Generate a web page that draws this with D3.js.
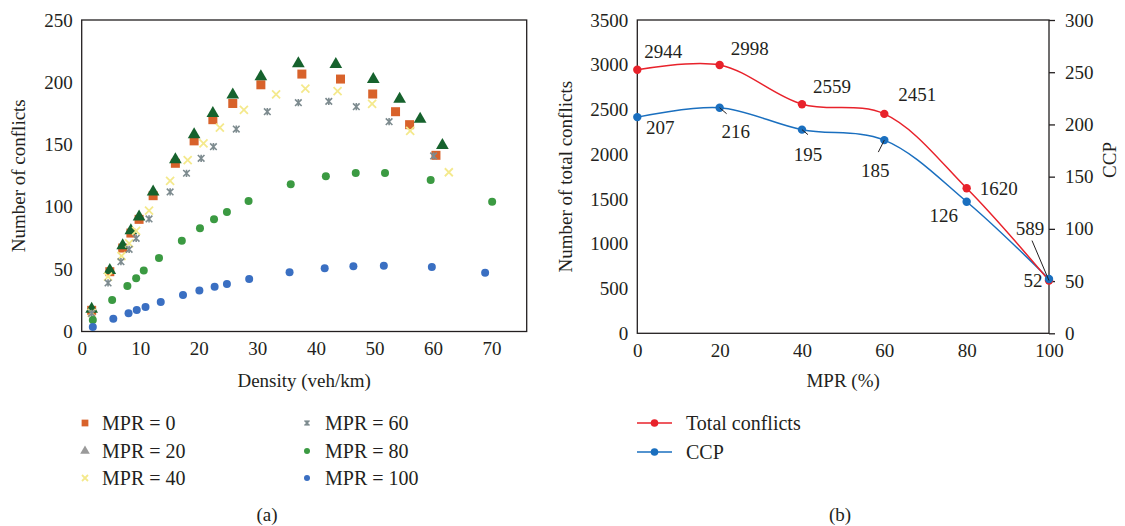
<!DOCTYPE html>
<html><head><meta charset="utf-8">
<script src="https://cdn.jsdelivr.net/npm/d3@7"></script>
<style>
body{margin:0;background:#fff;}
text{font-family:"Liberation Serif","DejaVu Serif",serif;fill:#231f20;}
</style></head>
<body><svg id="c" width="1125" height="526"></svg>
<script>
// ---- Panel (a) data ----
const mpr0X = [1.7,4.8,7.0,8.4,9.8,12.2,16.0,19.2,22.4,25.8,30.6,37.6,44.2,49.7,53.6,56.0,60.5];
const mpr0Y = [17,48,67,79,90,109,135,153,170,183,198,206.6,202.6,190.6,176.4,166,141.4];
const mpr20X = [1.7,4.8,7.0,8.4,9.8,12.2,16.0,19.2,22.4,25.8,30.6,37.0,43.4,49.8,54.3,57.8,61.6];
const mpr20Y = [18,49,69,81,92,112,138,158,175,190,204.5,215,214.4,202.4,186.6,170.5,149.4];
const mpr40X = [1.7,4.5,6.8,8.1,9.3,11.5,15.1,18.1,20.8,23.6,27.7,33.2,38.2,43.7,49.6,56.1,62.7];
const mpr40Y = [15,44,60.6,70.8,80.7,97,120.8,137.6,151,163.6,177.8,190.4,195,193,182.6,161,127.8];
const mpr60X = [1.7,4.5,6.7,8.1,9.3,11.5,15.1,17.9,20.4,22.5,26.4,31.7,37,42.2,46.9,52.5,60.1];
const mpr60Y = [14.6,39,56,66,74.8,90.3,112,127,139,148.3,162.5,176.4,183.6,184.7,180.4,168.4,140.9];
const mpr80X = [1.9,5.2,7.8,9.3,10.6,13.2,17.1,20.2,22.6,24.8,28.5,35.7,41.7,46.8,51.8,59.6,70.1];
const mpr80Y = [9.2,25.3,36.5,42.7,49,59,72.9,82.8,90,95.9,104.7,118.1,124.6,127.2,127.2,121.6,104.2];
const mpr100X = [1.9,5.4,8.0,9.4,10.9,13.5,17.3,20.1,22.7,24.8,28.6,35.5,41.5,46.4,51.6,59.8,68.9];
const mpr100Y = [3.6,10.3,14.6,17.3,19.7,23.7,29.3,33,36,38.1,42.1,47.5,50.7,52.3,52.8,51.8,47.2];
const densityTicks = [0,10,20,30,40,50,60,70];
const conflictTicks = [0,50,100,150,200,250];
const legendA = ["MPR = 0","MPR = 20","MPR = 40","MPR = 60","MPR = 80","MPR = 100"];

// ---- Panel (b) data ----
const mprLevels = [0,20,40,60,80,100];
const totalConflicts = [2944,2998,2559,2451,1620,589];
const ccp = [207,216,195,185,126,52];
const totalTicks = [0,500,1000,1500,2000,2500,3000,3500];
const ccpTicks = [0,50,100,150,200,250,300];
const mprTicks = [0,20,40,60,80,100];

const svg = d3.select("#c");
const FS = 19;
const fmt = d3.format("d");
function styleAxis(a){
  a.attr("font-family",null).attr("font-size",null);
  a.select(".domain").remove();
  a.selectAll("text").style("font-size",FS+"px").attr("fill","#231f20");
  a.selectAll("line").attr("stroke","#231f20").attr("stroke-width",1.3);
}

// ================= Panel (a) =================
const xa = d3.scaleLinear().domain([0,76]).range([81.7,526.7]);
const ya = d3.scaleLinear().domain([0,250]).range([331.5,20]);
const ga = svg.append("g");
ga.append("rect").attr("x",xa(0)).attr("y",ya(250)).attr("width",xa(76)-xa(0)).attr("height",ya(0)-ya(250))
  .attr("fill","none").attr("stroke","#231f20").attr("stroke-width",1.3);
const axA_x = ga.append("g").attr("transform",`translate(0,${ya(0)})`)
  .call(d3.axisBottom(xa).tickValues(densityTicks).tickFormat(fmt).tickSize(0).tickPadding(10));
const axA_y = ga.append("g").attr("transform",`translate(${xa(0)},0)`)
  .call(d3.axisLeft(ya).tickValues(conflictTicks).tickFormat(fmt).tickSize(0).tickPadding(9));
[axA_x,axA_y].forEach(styleAxis);

ga.append("text").attr("x",(xa(0)+xa(76))/2).attr("y",387).attr("text-anchor","middle").style("font-size","19px").text("Density (veh/km)");
ga.append("text").attr("transform",`translate(25,${(ya(0)+ya(250))/2}) rotate(-90)`).attr("text-anchor","middle").style("font-size","19px").text("Number of conflicts");

const cSq="#d8622b", cTri="#16622d", cX="#f4e98c", cAst="#7d8b8f", cG="#3b9a42", cB="#3a6fc2";
function asteriskPath(r){return `M${-r},${-r}L${r},${r}M${-r},${r}L${r},${-r}M0,${-r*1.1}L0,${r*1.1}`;}
function xPath(r){return `M${-r},${-r}L${r},${r}M${-r},${r}L${r},${-r}`;}
function drawSeries(g, X, Y, kind){
  X.forEach((x,i)=>drawMarker(g,xa(x),ya(Y[i]),kind,false));
}
function drawMarker(g,px,py,kind,legend){
  const s = legend?0.75:1;
  if(kind==="sq"){g.append("rect").attr("x",px-4.5*s).attr("y",py-4.5*s).attr("width",9*s).attr("height",9*s).attr("fill",cSq);}
  else if(kind==="tri"){g.append("path").attr("d",d3.symbol(d3.symbolTriangle, (legend?40:70))()).attr("transform",`translate(${px},${py})`).attr("fill",legend?"#9a9a9a":cTri);}
  else if(kind==="x"){g.append("path").attr("d",xPath(4*s)).attr("transform",`translate(${px},${py})`).attr("stroke",cX).attr("stroke-width",1.8).attr("fill","none");}
  else if(kind==="ast"){g.append("path").attr("d",asteriskPath(3.3*s)).attr("transform",`translate(${px},${py})`).attr("stroke",cAst).attr("stroke-width",1.6).attr("fill","none");}
  else if(kind==="g"){g.append("circle").attr("cx",px).attr("cy",py).attr("r",4*s).attr("fill",cG);}
  else if(kind==="b"){g.append("circle").attr("cx",px).attr("cy",py).attr("r",4*s).attr("fill",cB);}
}
const seriesA = [[mpr0X,mpr0Y,"sq"],[mpr20X,mpr20Y,"tri"],[mpr40X,mpr40Y,"x"],[mpr60X,mpr60Y,"ast"],[mpr80X,mpr80Y,"g"],[mpr100X,mpr100Y,"b"]];
const pa = ga.append("g");
seriesA.forEach(s=>drawSeries(pa,s[0],s[1],s[2]));

// legend (a)
const legRowsY=[423,451,478];
seriesA.forEach((s,i)=>{
  const col = Math.floor(i/3), row=i%3;
  const mx = col===0?85:307, tx = col===0?102:325;
  drawMarker(ga,mx,legRowsY[row],s[2],true);
  ga.append("text").attr("x",tx).attr("y",legRowsY[row]).attr("dy","0.35em").style("font-size","20px").text(legendA[i]);
});
ga.append("text").attr("x",267).attr("y",521).attr("text-anchor","middle").style("font-size","19px").text("(a)");

// ================= Panel (b) =================
const xb = d3.scaleLinear().domain([0,100]).range([637.3,1049]);
const yL = d3.scaleLinear().domain([0,3500]).range([333.3,20]);
const yR = d3.scaleLinear().domain([0,300]).range([333.3,20]);
const gb = svg.append("g");
gb.append("rect").attr("x",xb(0)).attr("y",yL(3500)).attr("width",xb(100)-xb(0)).attr("height",yL(0)-yL(3500))
  .attr("fill","none").attr("stroke","#231f20").attr("stroke-width",1.3);
const axB_x = gb.append("g").attr("transform",`translate(0,${yL(0)})`).call(d3.axisBottom(xb).tickValues(mprTicks).tickFormat(fmt).tickSize(0).tickPadding(10));
const axB_l = gb.append("g").attr("transform",`translate(${xb(0)},0)`).call(d3.axisLeft(yL).tickValues(totalTicks).tickFormat(fmt).tickSize(0).tickPadding(9));
const axB_r = gb.append("g").attr("transform",`translate(${xb(100)},0)`).call(d3.axisRight(yR).tickValues(ccpTicks).tickFormat(fmt).tickSize(6).tickPadding(10));
[axB_x,axB_l,axB_r].forEach(styleAxis);

gb.append("text").attr("x",(xb(0)+xb(100))/2).attr("y",387).attr("text-anchor","middle").style("font-size","19px").text("MPR (%)");
gb.append("text").attr("transform",`translate(572,${(yL(0)+yL(3500))/2}) rotate(-90)`).attr("text-anchor","middle").style("font-size","19px").text("Number of total conflicts");
gb.append("text").attr("transform",`translate(1116,160) rotate(-90)`).attr("text-anchor","middle").style("font-size","19px").text("CCP");

const cRed="#e8222b", cBlue="#1a6fbf";
const line = (ys,sc)=>d3.line().x((d,i)=>xb(mprLevels[i])).y(d=>sc(d)).curve(d3.curveCatmullRom.alpha(0.5))(ys);
gb.append("path").attr("d",line(ccp,yR)).attr("fill","none").attr("stroke",cBlue).attr("stroke-width",1.5);
gb.append("path").attr("d",line(totalConflicts,yL)).attr("fill","none").attr("stroke",cRed).attr("stroke-width",1.5);
totalConflicts.forEach((v,i)=>gb.append("circle").attr("cx",xb(mprLevels[i])).attr("cy",yL(v)).attr("r",4.2).attr("fill",cRed));
ccp.forEach((v,i)=>gb.append("circle").attr("cx",xb(mprLevels[i])).attr("cy",yR(v)).attr("r",4.2).attr("fill",cBlue));

// data labels (offsets relative to point)
const totLabelOff = [[26,-18],[30,-17],[30,-18],[33,-20],[32,0],[-19,-52]];
const ccpLabelOff = [[23,10],[16,24],[6,25],[-9,30],[-23,14],[-16,1]];
totalConflicts.forEach((v,i)=>{
  gb.append("text").attr("x",xb(mprLevels[i])+totLabelOff[i][0]).attr("y",yL(v)+totLabelOff[i][1]).attr("dy","0.35em").attr("text-anchor","middle").style("font-size","19px").text(v);
});
ccp.forEach((v,i)=>{
  gb.append("text").attr("x",xb(mprLevels[i])+ccpLabelOff[i][0]).attr("y",yR(ccp[i])+ccpLabelOff[i][1]).attr("dy","0.35em").attr("text-anchor","middle").style("font-size","19px").text(v);
});
// leader lines
const leaders = [
  [xb(20),yR(216),xb(20)+7,yR(216)+6],
  [xb(40),yR(195),xb(40)+6,yR(195)+5],
  [xb(60),yR(185),xb(60)-6,yR(185)+12],
  [xb(100),yL(589),xb(100)-17,yL(589)-40]
];
leaders.forEach(l=>gb.append("line").attr("x1",l[0]).attr("y1",l[1]).attr("x2",l[2]).attr("y2",l[3]).attr("stroke","#231f20").attr("stroke-width",1));

// legend (b)
[["Total conflicts",cRed,423],["CCP",cBlue,452]].forEach(d=>{
  gb.append("line").attr("x1",637).attr("x2",672).attr("y1",d[2]).attr("y2",d[2]).attr("stroke",d[1]).attr("stroke-width",1.5);
  gb.append("circle").attr("cx",654.5).attr("cy",d[2]).attr("r",3.8).attr("fill",d[1]);
  gb.append("text").attr("x",686).attr("y",d[2]).attr("dy","0.35em").style("font-size","20px").text(d[0]);
});
gb.append("text").attr("x",840).attr("y",521).attr("text-anchor","middle").style("font-size","19px").text("(b)");
</script></body></html>
